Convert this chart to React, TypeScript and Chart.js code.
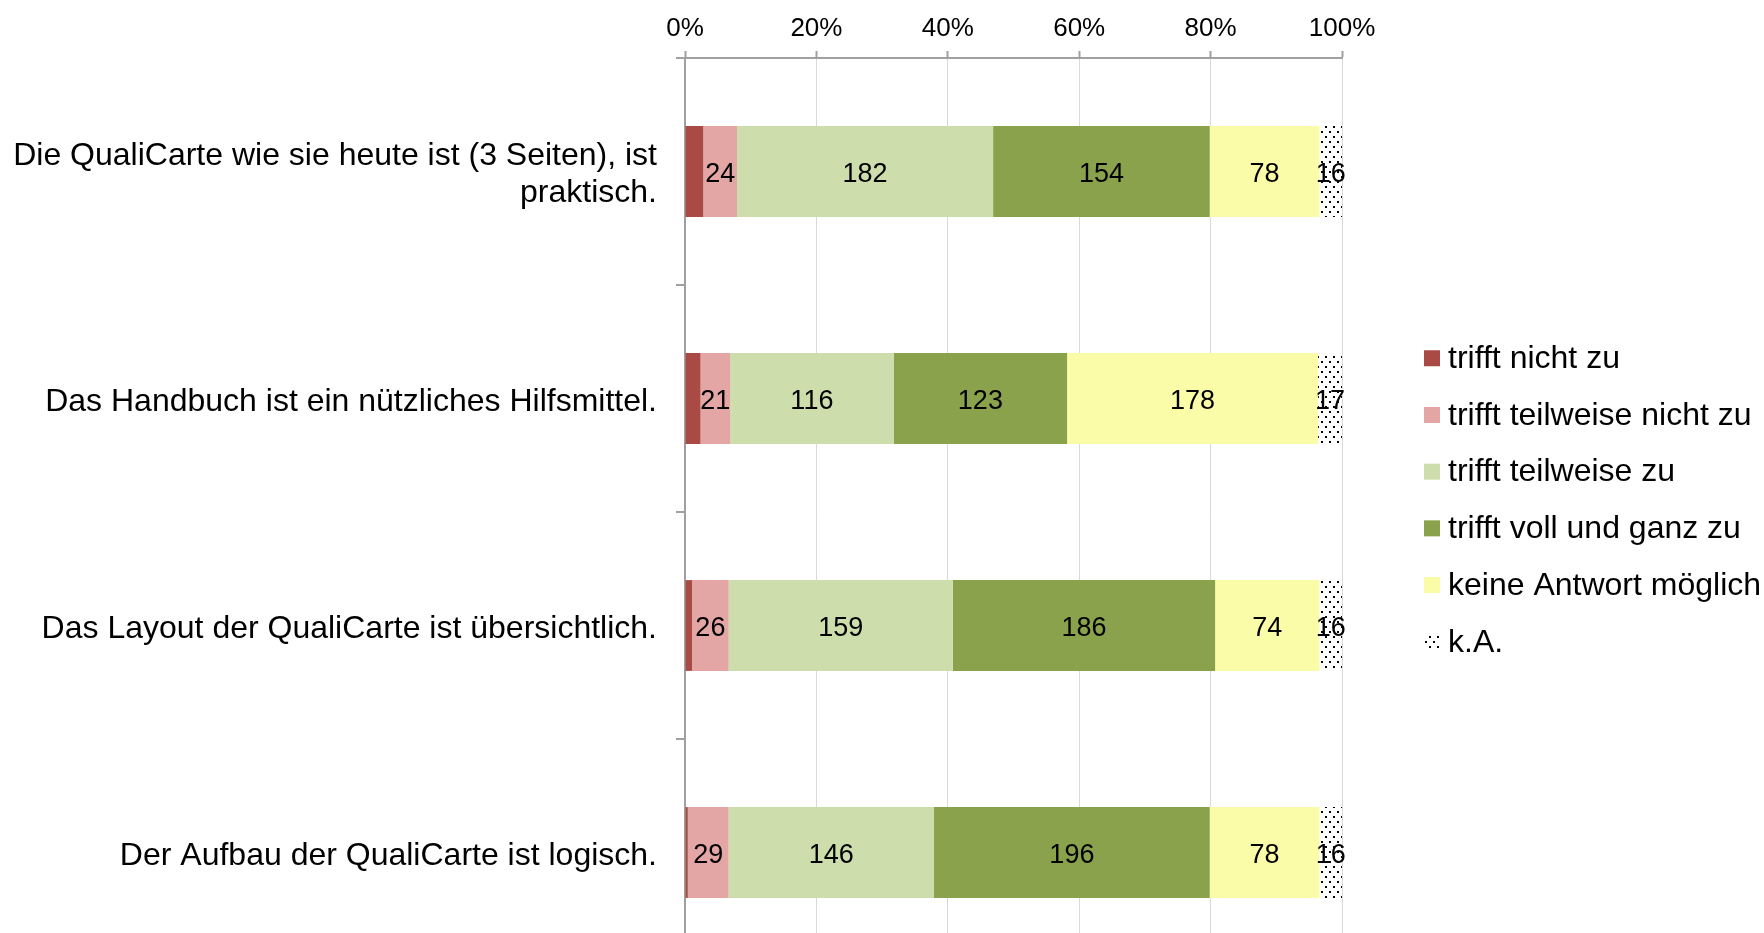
import React, { useEffect, useRef } from 'react';
import { Chart, registerables } from 'chart.js';

Chart.register(...registerables);

const categories: (string | string[])[] = [
  ['Die QualiCarte wie sie heute ist (3 Seiten), ist', 'praktisch.'],
  'Das Handbuch ist ein nützliches Hilfsmittel.',
  'Das Layout der QualiCarte ist übersichtlich.',
  'Der Aufbau der QualiCarte ist logisch.',
];

const seriesNames = [
  'trifft nicht zu',
  'trifft teilweise nicht zu',
  'trifft teilweise zu',
  'trifft voll und ganz zu',
  'keine Antwort möglich',
  'k.A.',
];

const trifftNichtZu = [13, 11, 5, 2];
const trifftTeilweiseNichtZu = [24, 21, 26, 29];
const trifftTeilweiseZu = [182, 116, 159, 146];
const trifftVollUndGanzZu = [154, 123, 186, 196];
const keineAntwortMoeglich = [78, 178, 74, 78];
const keineAngabe = [16, 17, 16, 16];

const showValueLabels = [false, true, true, true, true, true];
const seriesColors = ['#A94A44', '#E3A6A5', '#CDDDAC', '#8AA24C', '#FBFCA8', 'dots'];

const xTickValues = [0, 20, 40, 60, 80, 100];
const xTickLabels = ['0%', '20%', '40%', '60%', '80%', '100%'];

const FONT = '"Liberation Sans", Arial, Helvetica, sans-serif';

function makeDotPattern(ctx: CanvasRenderingContext2D): CanvasPattern | string {
  const c = document.createElement('canvas');
  c.width = 8;
  c.height = 10;
  const g = c.getContext('2d');
  if (!g) return '#ffffff';
  g.fillStyle = '#ffffff';
  g.fillRect(0, 0, 8, 10);
  g.fillStyle = '#000000';
  g.fillRect(1, 1, 2, 2);
  g.fillRect(5, 6, 2, 2);
  return ctx.createPattern(c, 'repeat') || '#ffffff';
}

const valueLabelPlugin = {
  id: 'valueLabels',
  afterDatasetsDraw(chart: any) {
    const ctx = chart.ctx;
    ctx.save();
    ctx.font = `27px ${FONT}`;
    ctx.fillStyle = '#000000';
    ctx.textAlign = 'center';
    ctx.textBaseline = 'middle';
    chart.data.datasets.forEach((ds: any, di: number) => {
      if (!ds.showValues) return;
      const meta = chart.getDatasetMeta(di);
      meta.data.forEach((el: any, i: number) => {
        const { x, base, y } = el.getProps(['x', 'base', 'y'], true);
        ctx.fillText(String(ds.counts[i]), (x + base) / 2, y + 3);
      });
    });
    ctx.restore();
  },
};

const customLegendPlugin = {
  id: 'customLegend',
  afterDraw(chart: any) {
    const ctx = chart.ctx;
    const datasets = chart.data.datasets;
    const n = datasets.length;
    const spacing = 56.7;
    const cy = chart.height / 2;
    const boxX = chart.chartArea.right + 82;
    ctx.save();
    ctx.font = `32px ${FONT}`;
    ctx.textBaseline = 'middle';
    ctx.textAlign = 'left';
    datasets.forEach((ds: any, i: number) => {
      const y = cy + (i - (n - 1) / 2) * spacing;
      ctx.fillStyle = ds.backgroundColor;
      ctx.fillRect(boxX, y - 8, 16, 16);
      ctx.fillStyle = '#000000';
      ctx.fillText(ds.label, boxX + 24, y + 1);
    });
    ctx.restore();
  },
};

export default function App() {
  const canvasRef = useRef<HTMLCanvasElement | null>(null);

  useEffect(() => {
    const canvas = canvasRef.current;
    if (!canvas) return;
    const ctx = canvas.getContext('2d');
    if (!ctx) return;
    const pattern = makeDotPattern(ctx);

    const rawSeries = [
      trifftNichtZu,
      trifftTeilweiseNichtZu,
      trifftTeilweiseZu,
      trifftVollUndGanzZu,
      keineAntwortMoeglich,
      keineAngabe,
    ];
    const totals = categories.map((_, i) => rawSeries.reduce((s, arr) => s + arr[i], 0));

    const datasets = rawSeries.map((arr, si) => ({
      label: seriesNames[si],
      data: arr.map((v, i) => (v / totals[i]) * 100),
      counts: arr,
      showValues: showValueLabels[si],
      backgroundColor: seriesColors[si] === 'dots' ? pattern : seriesColors[si],
      borderWidth: 0,
      categoryPercentage: 1,
      barPercentage: 0.4,
    }));

    const chart = new Chart(ctx, {
      type: 'bar',
      data: { labels: categories as any, datasets: datasets as any },
      plugins: [valueLabelPlugin, customLegendPlugin],
      options: {
        indexAxis: 'y',
        responsive: false,
        animation: false,
        devicePixelRatio: 1,
        layout: { padding: { left: 0, top: 0, right: 422, bottom: 34 } },
        plugins: {
          legend: { display: false },
          tooltip: { enabled: false },
          title: { display: false },
        },
        scales: {
          x: {
            type: 'linear',
            position: 'top',
            stacked: true,
            min: 0,
            max: 100,
            afterBuildTicks: (scale: any) => {
              scale.ticks = xTickValues.map((v) => ({ value: v }));
            },
            afterFit: (scale: any) => {
              scale.height = 58;
            },
            ticks: {
              color: '#000000',
              font: { family: FONT, size: 26 },
              padding: 7,
              callback: (v: any) => xTickLabels[xTickValues.indexOf(Number(v))] ?? '',
            },
            grid: {
              color: '#D9D9D9',
              lineWidth: 1,
              tickColor: '#A0A0A0',
              tickLength: 7,
              tickWidth: 2,
              drawTicks: true,
            },
            border: { display: true, color: '#A0A0A0', width: 2 },
          },
          y: {
            type: 'category',
            stacked: true,
            afterFit: (scale: any) => {
              scale.width = 685;
              scale.paddingTop = 0;
              scale.paddingBottom = 0;
            },
            ticks: {
              color: '#000000',
              font: { family: FONT, size: 32, lineHeight: 1.15 },
              padding: 19,
              labelOffset: 3.5,
            },
            grid: {
              offset: true,
              drawOnChartArea: false,
              drawTicks: true,
              tickLength: 9,
              color: '#A0A0A0',
              lineWidth: 2,
            },
            border: { display: true, color: '#A0A0A0', width: 2 },
          },
        },
      } as any,
    });

    return () => {
      chart.destroy();
    };
  }, []);

  return (
    <div
      style={{
        position: 'fixed',
        left: 0,
        top: 0,
        width: 1764,
        height: 933,
        overflow: 'hidden',
        background: '#ffffff',
      }}
    >
      <canvas ref={canvasRef} width={1764} height={1000} style={{ display: 'block' }} />
    </div>
  );
}
